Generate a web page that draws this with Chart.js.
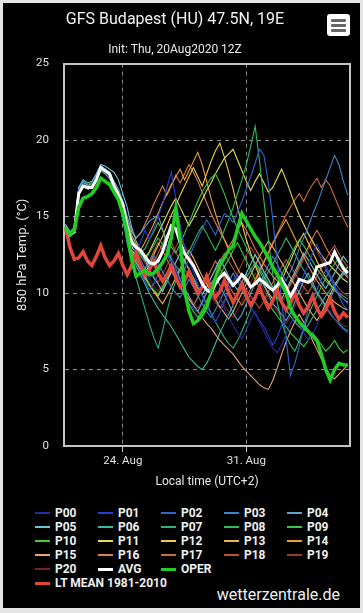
<!DOCTYPE html>
<html lang="en">
<head>
<meta charset="utf-8">
<title>GFS Budapest (HU) 850 hPa</title>
<script src="https://cdn.jsdelivr.net/npm/chart.js@4.4.1/dist/chart.umd.min.js"></script>
<style>
  html, body { margin: 0; padding: 0; }
  body {
    width: 363px; height: 613px; position: relative; overflow: hidden;
    background: #e4e4e4; font-family: Roboto, "DejaVu Sans", sans-serif;
  }
  #frame { position: absolute; left: 3px; top: 3px; width: 357px; height: 605px; background: #000; }
  #ensChart { position: absolute; left: 0; top: 0; }
  .menu-btn {
    position: absolute; left: 327px; top: 14px; width: 23px; height: 22px;
    background: #fff; border-radius: 3px;
  }
  .menu-btn span {
    position: absolute; left: 4px; width: 15px; height: 3px; background: #666; border-radius: 1px;
  }
  #legend {
    position: absolute; left: 35px; top: 506px;
    display: grid; grid-template-columns: repeat(5, 63px); grid-auto-rows: 14px;
  }
  .lg-item { display: flex; align-items: center; color: #f0f0f0; font-weight: bold; font-size: 12px; white-space: nowrap; }
  .lg-line { display: block; flex: none; width: 15px; margin-right: 5px; }
  .lg-wide { grid-column: 1 / span 5; }
  .brand {
    position: absolute; right: 23px; top: 586px; color: #eee;
    font-size: 16px; line-height: 18px;
  }
</style>
</head>
<body>
<div id="frame"></div>
<canvas id="ensChart" width="363" height="495"></canvas>
<div class="menu-btn"><span style="top:5px"></span><span style="top:10px"></span><span style="top:15px"></span></div>
<div id="legend"></div>
<div class="brand">wetterzentrale.de</div>

<script>
// hours after init (20Aug2020 12Z), 6-hourly
const HOURS = [0, 6, 12, 18, 24, 30, 36, 42, 48, 54, 60, 66, 72, 78, 84, 90, 96, 102, 108, 114, 120, 126,
  132, 138, 144, 150, 156, 162, 168, 174, 180, 186, 192, 198, 204, 210, 216, 222, 228, 234, 240, 246,
  252, 258, 264, 270, 276, 282, 288, 294, 300, 306, 312, 318, 324, 330, 336, 342, 348, 354, 360, 366,
  372, 378, 384];

const X_TICK_HOURS = [78, 246];
const X_TICK_LABELS = ["24. Aug", "31. Aug"];
const Y_TICKS = [0, 5, 10, 15, 20, 25];

// ensemble members (850 hPa temp, degC)
const P00 = [14.2, 13.9, 14.2, 16.7, 17.0, 16.8, 17.1, 17.6, 18.1, 17.9, 17.6, 16.9, 16.2,
  15.2, 13.8, 12.9, 12.6, 12.1, 11.4, 10.9, 11.3, 11.9, 12.6, 13.0, 12.4, 11.5, 10.6, 10.0, 9.4,
  9.0, 8.7, 8.4, 8.9, 9.6, 10.2, 9.7, 9.0, 8.4, 7.9, 7.4, 7.0, 7.6, 8.3, 8.8, 8.1,
  7.5, 6.9, 6.4, 6.1, 6.6, 7.3, 8.0, 8.5, 8.0, 7.4, 6.9, 7.3, 7.9, 8.6, 9.1, 8.8, 8.3, 7.9, 7.6, 7.4];
const P01 = [14.4, 13.7, 14.0, 16.5, 17.1, 17.0, 16.9, 17.4, 18.3, 18.1, 17.8, 17.1, 16.5,
  15.6, 14.6, 13.2, 12.7, 13.3, 14.1, 13.5, 14.2, 15.0, 15.8, 16.9, 17.9, 16.2, 14.4, 13.0, 12.1,
  11.4, 10.6, 9.8, 9.2, 8.6, 8.1, 8.7, 9.4, 10.1, 10.8, 11.2, 10.5, 9.8, 9.1, 8.6, 8.2,
  7.8, 7.2, 6.6, 7.1, 7.9, 8.7, 9.4, 9.9, 10.5, 11.2, 11.8, 12.6, 13.2, 12.5, 11.8, 11.2, 10.5, 10.0, 9.6, 9.3];
const P02 = [14.3, 13.8, 14.1, 16.6, 17.2, 16.9, 17.0, 17.5, 18.2, 18.0, 17.6, 17.0, 16.3,
  15.0, 13.5, 12.4, 11.9, 11.4, 10.8, 10.2, 10.6, 11.2, 11.9, 12.5, 12.0, 11.4, 10.8, 11.5, 12.3,
  13.0, 13.6, 14.2, 14.8, 14.3, 13.8, 14.5, 15.2, 15.0, 14.6, 15.3, 16.0, 16.8, 17.6, 18.5, 19.4,
  19.0, 17.2, 14.8, 12.1, 9.5, 7.0, 4.6, 5.4, 6.5, 7.8, 8.9, 9.6, 10.2, 10.9, 11.5, 11.0, 10.4, 9.8, 9.2, 8.9];
const P03 = [14.2, 13.8, 14.0, 16.6, 17.0, 16.8, 17.0, 17.6, 18.2, 17.9, 17.7, 17.0, 16.4,
  15.4, 14.2, 13.3, 12.8, 12.2, 11.6, 11.9, 12.5, 12.0, 11.4, 10.9, 10.4, 10.0, 9.7, 10.3, 10.9,
  10.4, 9.8, 9.3, 8.8, 8.4, 8.9, 9.5, 10.1, 10.7, 11.3, 10.8, 10.2, 9.6, 9.2, 9.8, 10.5,
  11.2, 11.8, 12.4, 11.9, 11.3, 10.8, 11.4, 12.1, 12.9, 13.6, 14.3, 15.1, 15.8, 16.6, 17.4, 18.2, 19.0, 18.4, 17.3, 16.4];
const P04 = [14.4, 13.9, 14.2, 16.8, 17.3, 17.1, 17.2, 17.7, 18.3, 18.1, 17.9, 17.3, 16.8,
  16.0, 15.0, 14.1, 13.6, 13.9, 14.3, 14.7, 14.9, 15.1, 14.2, 13.1, 12.3, 11.6, 10.9, 10.3, 9.8,
  9.2, 8.8, 9.4, 10.0, 10.6, 11.1, 10.5, 9.9, 9.3, 8.7, 8.2, 8.6, 9.3, 10.0, 10.6, 11.1,
  10.5, 9.9, 9.3, 9.0, 8.6, 8.2, 8.7, 9.4, 10.1, 10.8, 11.3, 10.7, 10.1, 9.6, 9.2, 9.6, 10.3, 10.9, 11.4, 11.1];
const P05 = [14.5, 14.0, 14.3, 16.9, 17.4, 17.2, 17.3, 17.8, 18.4, 18.3, 18.1, 17.9, 17.4,
  16.5, 15.6, 14.3, 13.4, 12.8, 12.2, 11.6, 11.0, 10.6, 10.1, 10.7, 11.4, 12.0, 12.6, 12.1, 11.5,
  10.9, 10.3, 9.9, 10.4, 11.0, 11.6, 12.2, 11.7, 11.1, 10.6, 10.2, 10.7, 11.3, 11.9, 12.5, 12.0,
  11.4, 10.9, 10.4, 10.0, 9.6, 10.2, 10.8, 11.4, 12.0, 12.6, 12.2, 11.7, 11.2, 10.7, 10.3, 10.8, 11.3, 11.9, 12.4, 12.0];
const P06 = [14.3, 13.8, 14.1, 16.6, 17.1, 16.9, 17.0, 17.5, 18.1, 17.9, 17.6, 16.9, 16.3,
  15.0, 13.6, 12.5, 11.8, 11.2, 10.6, 10.0, 9.5, 9.0, 8.6, 8.2, 7.8, 7.3, 6.8, 6.3, 5.8,
  5.5, 5.2, 5.0, 5.4, 6.0, 6.7, 7.4, 8.0, 8.6, 9.2, 9.8, 10.4, 11.0, 11.5, 12.0, 11.6,
  11.1, 10.6, 10.1, 9.7, 9.3, 8.9, 8.5, 8.1, 7.8, 7.5, 7.9, 8.4, 8.9, 9.3, 9.8, 10.2, 10.6, 10.9, 11.2, 11.5];
const P07 = [14.2, 13.7, 14.0, 16.5, 17.0, 16.8, 16.9, 17.4, 18.0, 17.8, 17.5, 16.8, 16.1,
  14.8, 13.2, 12.0, 11.0, 10.0, 9.0, 8.0, 7.1, 6.4, 7.5, 8.8, 9.9, 10.8, 11.5, 12.1, 11.6,
  11.0, 10.5, 9.9, 9.3, 8.7, 8.1, 7.6, 7.1, 6.7, 6.4, 6.9, 7.5, 8.2, 8.9, 9.6, 10.3,
  10.9, 11.4, 11.9, 12.5, 13.0, 13.6, 13.1, 12.6, 12.0, 11.5, 11.0, 10.5, 10.0, 9.6, 9.1, 8.7, 8.3, 8.0, 7.7, 7.5];
const P08 = [14.3, 13.8, 14.1, 16.6, 17.1, 16.9, 17.0, 17.5, 18.2, 18.0, 17.7, 17.0, 16.4,
  15.3, 14.1, 13.4, 12.9, 12.5, 12.1, 12.6, 13.1, 13.6, 13.2, 12.7, 12.2, 11.8, 11.4, 12.0, 12.7,
  13.3, 13.9, 14.4, 13.9, 13.3, 12.8, 13.4, 14.1, 14.8, 15.6, 16.5, 17.4, 18.4, 19.6, 20.9, 18.6,
  16.0, 13.5, 11.2, 9.4, 8.1, 7.2, 6.6, 6.2, 6.9, 7.7, 8.5, 9.2, 9.8, 10.4, 11.0, 11.5, 11.9, 12.3, 11.8, 11.4];
const P09 = [14.4, 13.9, 14.2, 16.7, 17.2, 17.0, 17.1, 17.6, 18.2, 18.0, 17.7, 17.1, 16.5,
  15.6, 14.5, 13.6, 13.0, 12.6, 12.9, 13.5, 14.0, 14.6, 14.1, 13.5, 13.0, 12.6, 13.2, 13.9, 14.6,
  15.3, 16.0, 16.6, 17.1, 17.5, 17.8, 17.2, 16.5, 15.7, 14.9, 14.2, 13.6, 13.0, 12.4, 11.9, 11.4,
  10.9, 10.5, 10.1, 10.6, 11.2, 11.8, 12.4, 13.0, 13.5, 13.1, 12.6, 12.1, 11.6, 11.2, 10.8, 10.5, 10.2, 10.0, 9.8, 9.6];
const P10 = [14.2, 13.7, 14.0, 16.5, 17.0, 16.8, 16.9, 17.4, 18.0, 17.8, 17.5, 16.8, 16.2,
  14.9, 13.7, 12.8, 12.2, 11.6, 11.1, 10.6, 10.2, 9.9, 10.4, 11.0, 11.5, 11.0, 10.4, 9.8, 9.3,
  8.8, 8.4, 8.9, 9.5, 10.1, 10.6, 11.2, 11.7, 12.2, 12.8, 13.3, 12.7, 12.1, 11.5, 10.9, 10.3,
  9.8, 9.3, 8.9, 8.5, 8.1, 7.8, 7.4, 7.1, 6.8, 6.5, 6.9, 7.4, 7.0, 6.6, 6.2, 6.5, 6.9, 6.4, 6.1, 6.3];
const P11 = [14.4, 13.9, 14.2, 16.8, 17.2, 17.0, 17.1, 17.6, 18.3, 18.1, 17.8, 17.1, 16.5,
  15.5, 14.3, 13.5, 13.0, 12.6, 12.3, 12.7, 13.3, 13.9, 14.5, 15.1, 15.7, 16.2, 15.6, 15.0, 14.4,
  14.9, 15.5, 16.1, 16.7, 17.2, 17.8, 18.3, 18.8, 19.1, 19.4, 18.7, 18.0, 17.3, 16.7, 17.3, 17.8,
  17.2, 16.6, 16.9, 17.5, 18.1, 17.4, 16.6, 15.8, 15.1, 14.5, 13.9, 13.4, 12.9, 12.5, 12.1, 11.8, 11.5, 11.2, 10.9, 10.7];
const P12 = [14.3, 13.8, 14.1, 16.7, 17.2, 17.0, 17.1, 17.6, 18.3, 18.0, 17.8, 17.1, 16.5,
  15.4, 14.2, 13.1, 12.4, 11.8, 11.3, 11.8, 12.5, 13.1, 13.7, 14.4, 15.1, 15.7, 16.4, 17.0, 17.6,
  18.2, 17.6, 17.0, 17.8, 18.6, 19.3, 19.8, 18.9, 17.9, 16.8, 15.6, 14.5, 13.5, 12.6, 11.8, 11.1,
  10.5, 10.0, 9.6, 10.2, 10.8, 11.5, 12.1, 12.8, 13.4, 13.9, 13.3, 12.7, 12.1, 11.5, 11.0, 10.6, 10.2, 9.9, 9.6, 9.4];
const P13 = [14.3, 13.8, 14.0, 16.6, 17.1, 16.9, 17.0, 17.5, 18.2, 18.0, 17.7, 17.0, 16.4,
  15.1, 13.9, 12.9, 12.3, 11.7, 11.1, 10.6, 10.1, 9.7, 9.3, 9.8, 10.4, 11.0, 11.6, 12.2, 12.8,
  12.3, 11.7, 11.1, 10.6, 10.1, 9.6, 9.1, 8.7, 8.3, 8.8, 9.4, 10.0, 10.6, 11.2, 11.8, 12.4,
  12.9, 13.4, 13.0, 12.5, 12.0, 11.5, 11.0, 10.5, 10.0, 9.5, 9.0, 8.6, 8.2, 8.7, 9.3, 9.9, 10.5, 11.0, 11.4, 11.7];
const P14 = [14.4, 13.9, 14.2, 16.7, 17.2, 17.0, 17.1, 17.6, 18.3, 18.1, 17.8, 17.1, 16.6,
  15.6, 14.6, 13.8, 13.2, 12.8, 13.3, 13.9, 14.5, 15.2, 15.9, 16.5, 17.1, 17.6, 18.1, 17.4, 18.0,
  18.6, 19.2, 18.4, 17.3, 16.2, 15.2, 14.3, 13.5, 12.8, 12.2, 11.6, 11.1, 10.7, 10.3, 10.8, 11.4,
  12.0, 12.6, 13.2, 13.8, 14.3, 14.8, 14.2, 13.6, 13.0, 12.4, 11.8, 11.3, 10.8, 10.4, 10.0, 9.7, 9.4, 9.2, 9.0, 8.9];
const P15 = [14.2, 13.7, 14.0, 16.5, 17.0, 16.8, 16.9, 17.4, 18.1, 17.8, 17.5, 16.9, 16.2,
  14.9, 13.5, 12.6, 12.0, 11.5, 11.0, 10.5, 10.1, 9.8, 10.3, 10.9, 11.4, 11.0, 10.5, 10.0, 9.6,
  9.2, 8.8, 8.4, 8.0, 7.7, 7.3, 6.9, 6.6, 6.3, 6.0, 5.6, 5.2, 4.9, 4.6, 4.3, 4.0,
  3.8, 3.7, 4.3, 5.1, 6.0, 6.8, 7.5, 8.1, 8.6, 8.1, 7.5, 6.9, 6.3, 5.7, 5.1, 4.6, 4.4, 4.7, 5.0, 5.3];
const P16 = [14.4, 13.9, 14.2, 16.7, 17.2, 17.0, 17.1, 17.6, 18.3, 18.1, 17.8, 17.2, 16.6,
  15.7, 14.8, 14.0, 13.6, 13.9, 14.5, 15.1, 15.8, 16.4, 17.0, 16.4, 17.0, 17.7, 17.2, 17.8, 18.4,
  17.9, 17.3, 16.6, 15.9, 15.2, 14.6, 14.0, 13.5, 13.0, 13.5, 14.1, 14.6, 14.1, 13.5, 12.9, 12.4,
  11.9, 11.5, 11.1, 10.8, 10.4, 10.1, 10.6, 11.2, 11.8, 12.4, 13.0, 13.6, 14.1, 13.6, 13.0, 12.5, 12.0, 11.6, 11.3, 11.0];
const P17 = [14.3, 13.8, 14.1, 16.6, 17.1, 16.9, 17.0, 17.5, 18.2, 18.0, 17.7, 17.0, 16.4,
  15.2, 14.0, 13.1, 12.5, 12.0, 11.6, 12.1, 12.7, 13.3, 12.8, 12.2, 11.6, 11.0, 10.5, 10.0, 9.6,
  9.2, 9.7, 10.3, 10.9, 11.5, 12.1, 11.6, 11.0, 10.5, 10.0, 9.6, 9.2, 9.7, 10.3, 10.9, 11.5,
  12.1, 12.7, 13.3, 13.9, 14.5, 15.1, 15.6, 16.1, 16.5, 16.0, 16.6, 17.1, 17.5, 16.9, 17.4, 17.0, 16.3, 15.6, 14.9, 14.3];
const P18 = [14.2, 13.7, 14.0, 16.6, 17.0, 16.8, 16.9, 17.5, 18.1, 17.9, 17.6, 16.9, 16.3,
  15.0, 13.7, 12.7, 12.0, 11.4, 10.9, 11.4, 12.0, 12.6, 13.2, 13.8, 13.3, 12.7, 12.1, 11.6, 11.1,
  10.7, 10.3, 9.9, 10.4, 11.0, 11.5, 12.1, 12.6, 12.1, 11.6, 11.1, 10.6, 10.2, 9.8, 9.4, 9.0,
  9.5, 10.1, 10.7, 11.2, 11.7, 12.2, 11.8, 11.3, 10.8, 10.4, 10.0, 10.5, 11.1, 11.6, 12.2, 12.7, 13.1, 12.6, 12.1, 11.7];
const P19 = [14.3, 13.8, 14.1, 16.7, 17.1, 16.9, 17.0, 17.5, 18.2, 18.0, 17.7, 17.0, 16.4,
  15.3, 14.2, 13.4, 12.9, 12.4, 12.0, 11.5, 11.1, 10.7, 11.2, 11.8, 12.4, 13.0, 13.6, 13.1, 12.5,
  11.9, 11.3, 10.8, 10.3, 9.8, 9.4, 9.0, 9.5, 10.1, 10.7, 11.3, 11.9, 12.5, 13.0, 12.5, 11.9,
  11.3, 10.8, 10.3, 9.8, 9.4, 9.9, 10.5, 11.0, 11.6, 12.2, 12.8, 13.3, 12.8, 12.2, 11.6, 11.1, 10.7, 10.3, 10.0, 9.8];
const P20 = [14.2, 13.7, 14.0, 16.5, 17.0, 16.8, 16.9, 17.4, 18.1, 17.9, 17.6, 16.9, 16.3,
  15.1, 13.9, 13.0, 12.4, 11.9, 11.4, 10.9, 10.5, 10.1, 10.6, 11.2, 11.8, 11.3, 10.8, 10.3, 9.8,
  9.4, 9.0, 9.5, 10.1, 10.7, 10.2, 9.7, 9.2, 8.8, 8.4, 8.9, 9.5, 10.1, 10.7, 11.3, 10.8,
  10.2, 9.7, 9.2, 8.8, 8.4, 8.0, 8.5, 9.1, 9.7, 10.3, 10.9, 10.4, 9.9, 9.4, 9.0, 8.6, 8.3, 8.1, 7.9, 7.8];

const AVG = [14.3, 13.8, 14.0, 16.5, 17.0, 16.9, 16.9, 17.4, 18.2, 18.0, 17.8, 17.0, 16.4,
  15.8, 14.3, 13.3, 13.0, 12.8, 12.4, 12.0, 11.9, 12.1, 12.7, 13.6, 14.4, 14.2, 13.3, 12.6, 12.2,
  11.8, 11.2, 10.6, 10.2, 10.0, 10.6, 11.0, 11.3, 10.9, 10.5, 10.8, 11.2, 10.9, 10.4, 10.6, 10.9,
  10.7, 10.4, 10.2, 10.5, 10.9, 10.4, 9.8, 10.3, 10.9, 10.8, 10.7, 10.9, 11.7, 11.8, 11.9, 12.0,
  12.7, 12.1, 11.6, 11.3];
const OPER = [14.3, 13.8, 14.1, 15.6, 16.2, 16.3, 16.5, 16.9, 17.5, 17.3, 17.1, 16.6, 16.1,
  15.2, 14.0, 12.2, 11.1, 11.3, 11.5, 11.2, 11.3, 11.6, 12.0, 12.5, 13.6, 15.5, 13.5, 10.2, 8.8,
  8.0, 8.2, 8.6, 9.1, 10.0, 11.0, 11.8, 12.3, 12.8, 13.1, 14.2, 15.2, 14.7, 14.2, 13.7, 13.3,
  12.8, 12.3, 11.7, 11.2, 10.6, 10.0, 9.0, 8.5, 8.1, 7.8, 7.5, 7.2, 6.9, 6.0, 5.0, 4.3,
  5.0, 5.4, 5.3, 5.3];
const LT_MEAN = [14.3, 13.0, 12.2, 12.3, 12.7, 12.1, 11.8, 12.4, 13.1, 12.3, 11.8, 12.1, 12.6,
  11.8, 11.2, 11.8, 12.6, 11.8, 11.2, 11.5, 12.1, 11.3, 10.8, 11.2, 11.8, 11.0, 10.4, 10.8, 11.4,
  10.6, 10.0, 10.4, 11.1, 10.3, 9.7, 10.1, 10.8, 10.0, 9.4, 9.9, 10.6, 9.8, 9.2, 9.7, 10.4,
  9.6, 9.0, 9.5, 10.2, 9.4, 8.9, 9.3, 10.0, 9.2, 8.7, 9.1, 9.8, 9.0, 8.5, 8.9, 9.6,
  8.8, 8.3, 8.7, 8.4];

const MEMBER_NAMES = ["P00", "P01", "P02", "P03", "P04", "P05", "P06", "P07", "P08", "P09", "P10",
  "P11", "P12", "P13", "P14", "P15", "P16", "P17", "P18", "P19", "P20"];
const MEMBER_COLORS = ["#2b2ba6", "#2540d0", "#3263cf", "#3d85c6", "#5ba4cc", "#6cc6d4", "#3bb99b",
  "#2faf79", "#30b95f", "#3ac44a", "#40cf30", "#e2e052", "#f0cb45", "#eab25a", "#f09c3c",
  "#eca274", "#de7e4e", "#cc6a3e", "#b8503c", "#9c3a30", "#742424"];
const MEMBERS = [P00, P01, P02, P03, P04, P05, P06, P07, P08, P09, P10,
  P11, P12, P13, P14, P15, P16, P17, P18, P19, P20];

const FONT = "Roboto, 'DejaVu Sans', sans-serif";

function buildDatasets() {
  const sets = MEMBERS.map((vals, i) => ({
    label: MEMBER_NAMES[i],
    data: vals,
    borderColor: MEMBER_COLORS[i],
    borderWidth: 1.1,
    order: 4,
  }));
  sets.push({ label: "AVG", data: AVG, borderColor: "#ffffff", borderWidth: 3, order: 2 });
  sets.push({ label: "OPER", data: OPER, borderColor: "#22cc22", borderWidth: 3.5, order: 1 });
  sets.push({ label: "LT MEAN 1981-2010", data: LT_MEAN, borderColor: "#e2463a", borderWidth: 3.5, order: 3 });
  return sets;
}

// legend as a 5 column grid, like the original page
function renderLegend(chart) {
  const box = document.getElementById("legend");
  chart.data.datasets.forEach((ds) => {
    const item = document.createElement("div");
    item.className = "lg-item";
    if (ds.label.startsWith("LT")) item.classList.add("lg-wide");
    const line = document.createElement("span");
    line.className = "lg-line";
    line.style.height = ds.borderWidth > 2 ? "3px" : "2px";
    line.style.backgroundColor = ds.borderColor;
    const txt = document.createElement("span");
    txt.textContent = ds.label;
    item.appendChild(line);
    item.appendChild(txt);
    box.appendChild(item);
  });
}

// plot frame: only border lines, no ticks
const frameAxis = (position) => ({
  type: "linear",
  display: true,
  position,
  min: 0,
  max: 1,
  grid: { display: false, drawTicks: false },
  ticks: { display: false },
  border: { display: true, color: "#c4c4c4", width: 2 },
});

const ctx = document.getElementById("ensChart").getContext("2d");
const chart = new Chart(ctx, {
  type: "line",
  data: { labels: HOURS, datasets: buildDatasets() },
  options: {
    responsive: false,
    animation: false,
    devicePixelRatio: 1,
    elements: { point: { radius: 0 }, line: { tension: 0 } },
    layout: { padding: { left: 0, right: 13, top: 0, bottom: 0 } },
    plugins: {
      legend: { display: false },
      tooltip: { enabled: false },
      title: {
        display: true,
        text: "GFS Budapest (HU) 47.5N, 19E",
        color: "#f2f2f2",
        font: { family: FONT, size: 16, weight: "normal" },
        padding: { top: 10, bottom: 7 },
      },
      subtitle: {
        display: true,
        text: "Init: Thu, 20Aug2020 12Z",
        color: "#e8e8e8",
        font: { family: FONT, size: 12 },
        padding: { top: 7, bottom: 6 },
      },
    },
    scales: {
      x: {
        type: "linear",
        min: -2,
        max: 387,
        afterBuildTicks: (s) => { s.ticks = X_TICK_HOURS.map((v) => ({ value: v })); },
        afterFit: (s) => { s.height = 49; },
        ticks: {
          autoSkip: false,
          maxRotation: 0,
          color: "#e0e0e0",
          font: { family: FONT, size: 11.5 },
          padding: 2,
          callback: (v) => X_TICK_LABELS[X_TICK_HOURS.indexOf(v)],
        },
        grid: { color: "#8c8c8c", lineWidth: 1, tickLength: 6, tickColor: "#c4c4c4", tickBorderDash: [] },
        border: { display: true, color: "#c4c4c4", width: 2, dash: [4, 4] },
        title: {
          display: true,
          text: "Local time (UTC+2)",
          color: "#e8e8e8",
          font: { family: FONT, size: 12 },
          padding: { top: 0, bottom: 6 },
        },
      },
      y: {
        min: 0,
        max: 25,
        afterBuildTicks: (s) => { s.ticks = Y_TICKS.map((v) => ({ value: v })); },
        afterFit: (s) => { s.width = 64; },
        ticks: { color: "#e0e0e0", font: { family: FONT, size: 11.5 }, padding: 15 },
        grid: {
          drawTicks: false,
          lineWidth: 1,
          color: (c) => (c.tick && (c.tick.value === 0 || c.tick.value === 25) ? "rgba(0,0,0,0)" : "#8c8c8c"),
        },
        border: { display: true, color: "#c4c4c4", width: 2, dash: [4, 4] },
        title: {
          display: true,
          text: "850 hPa Temp. (°C)",
          color: "#e8e8e8",
          font: { family: FONT, size: 13 },
          padding: { top: 15, bottom: 0 },
        },
      },
      x2: frameAxis("top"),
      y2: frameAxis("right"),
    },
  },
});

renderLegend(chart);
</script>
</body>
</html>
